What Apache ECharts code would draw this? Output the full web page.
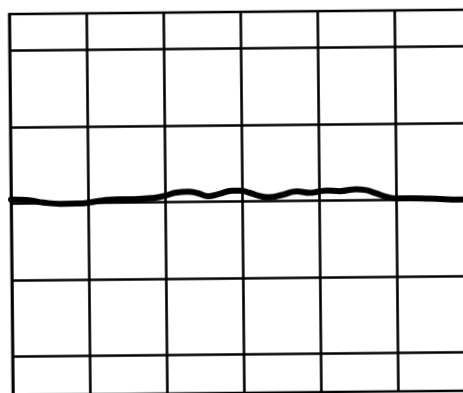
<!DOCTYPE html>
<html>
<head>
<meta charset="utf-8">
<script src="https://cdn.jsdelivr.net/npm/echarts@6/dist/echarts.min.js"></script>
<style>
 html, body { margin: 0; padding: 0; background: #fff; overflow: hidden; }
 #wrap { position: absolute; left: 0; top: 0; width: 463px; height: 393px; overflow: hidden; }
 /* the scanned strip sits slightly rotated on the page */
 #chart {
  position: absolute; left: -20px; top: -20px; width: 503px; height: 433px;
  transform: rotate(-0.55deg); transform-origin: 50% 50%;
 }
</style>
</head>
<body>
<div id="wrap"><div id="chart"></div></div>
<script>
// chart time, in grid units (10 per major division)
const traceX = [0, 1.2, 2.5, 4.2, 6.4, 8.6, 9.9, 11.6, 13.8, 16.1, 18.7, 20.0, 21.3, 23.0, 24.3,
 25.6, 26.9, 28.7, 29.7, 31.0, 32.7, 33.6, 35.3, 37.1, 38.8, 39.9, 41.0, 42.7, 44.8, 46.1,
 47.4, 48.7, 50.0, 51.8, 54.4, 58.7, 60];
// pen level, in grid units (10 per major division)
const traceY = [20.51, 20.50, 20.41, 20.10, 19.91, 19.93, 20.01, 20.26, 20.44, 20.44, 20.59, 20.84,
 21.20, 21.33, 21.11, 20.72, 20.97, 21.40, 21.42, 21.11, 20.59, 20.51, 20.82, 21.25, 21.03,
 21.18, 21.32, 21.22, 21.45, 21.33, 20.89, 20.43, 20.21, 20.20, 20.12, 19.97, 19.97];

const ink = '#000';
const gridLine = { show: true, lineStyle: { color: ink, width: 2.6, type: 'solid' } };
const hidden = { axisLine: { show: false }, axisTick: { show: false }, axisLabel: { show: false } };

const chart = echarts.init(document.getElementById('chart'), null, { renderer: 'canvas' });

chart.setOption({
 animation: false,
 backgroundColor: 'transparent',
 grid: [
  // paper box
  { left: 31, top: 32, width: 462, height: 381, show: true, borderColor: ink, borderWidth: 2.6, backgroundColor: 'transparent' },
  // major divisions
  { left: 31, top: 68.5, width: 462, height: 306 },
 ],
 xAxis: [
  { type: 'value', gridIndex: 0, min: 0, max: 60, interval: 10, ...hidden, splitLine: gridLine },
  { type: 'value', gridIndex: 1, min: 0, max: 60, interval: 10, show: false },
 ],
 yAxis: [
  { type: 'value', gridIndex: 0, min: 0, max: 1, ...hidden, splitLine: { show: false } },
  { type: 'value', gridIndex: 1, min: 0, max: 40, interval: 10, ...hidden, splitLine: gridLine },
 ],
 series: [
  {
   type: 'line',
   xAxisIndex: 1,
   yAxisIndex: 1,
   data: traceX.map((x, i) => [x, traceY[i]]),
   smooth: 0.5,
   symbol: 'none',
   clip: false,
   lineStyle: { color: ink, width: 6, cap: 'round', join: 'round' },
   z: 5,
  },
 ],
});
</script>
</body>
</html>
